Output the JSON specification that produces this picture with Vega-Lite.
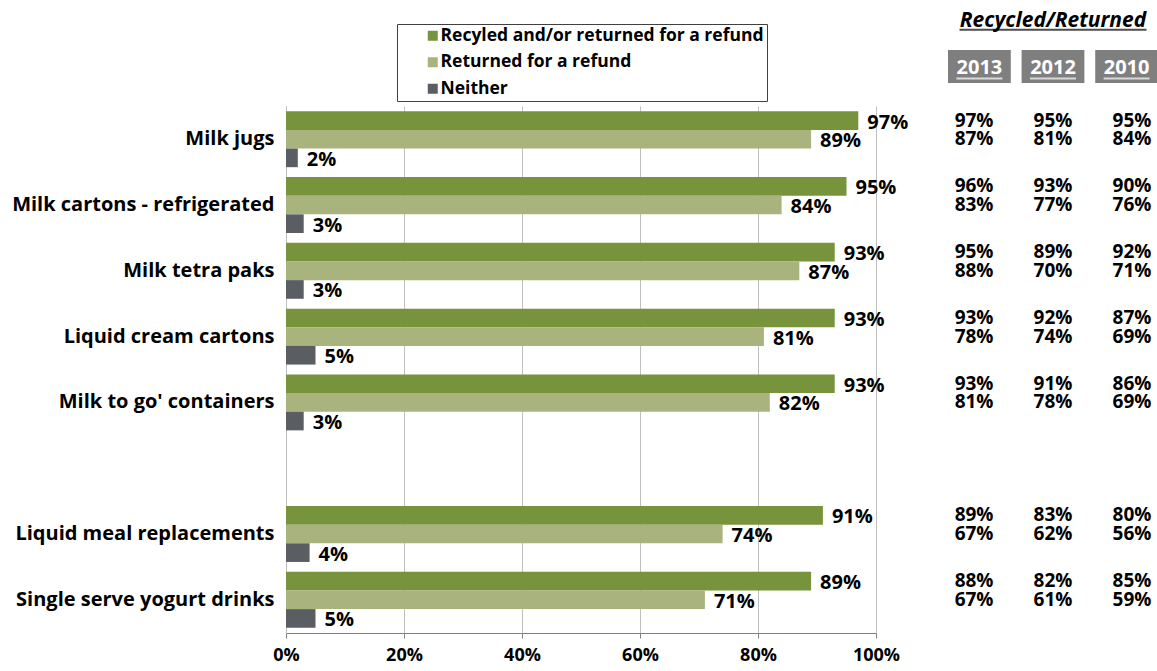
{
  "$schema": "https://vega.github.io/schema/vega-lite/v6.json",
  "config": {"font": "Open Sans", "view": {"stroke": null}},
  "padding": {"left": 11, "top": 9, "right": 0, "bottom": 0},
  "datasets": {
    "bars": [
      {"cat": "Milk jugs", "series": "Recyled and/or returned for a refund", "value": 0.97},
      {"cat": "Milk jugs", "series": "Returned for a refund", "value": 0.89},
      {"cat": "Milk jugs", "series": "Neither", "value": 0.02},
      {"cat": "Milk cartons - refrigerated", "series": "Recyled and/or returned for a refund", "value": 0.95},
      {"cat": "Milk cartons - refrigerated", "series": "Returned for a refund", "value": 0.84},
      {"cat": "Milk cartons - refrigerated", "series": "Neither", "value": 0.03},
      {"cat": "Milk tetra paks", "series": "Recyled and/or returned for a refund", "value": 0.93},
      {"cat": "Milk tetra paks", "series": "Returned for a refund", "value": 0.87},
      {"cat": "Milk tetra paks", "series": "Neither", "value": 0.03},
      {"cat": "Liquid cream cartons", "series": "Recyled and/or returned for a refund", "value": 0.93},
      {"cat": "Liquid cream cartons", "series": "Returned for a refund", "value": 0.81},
      {"cat": "Liquid cream cartons", "series": "Neither", "value": 0.05},
      {"cat": "Milk to go' containers", "series": "Recyled and/or returned for a refund", "value": 0.93},
      {"cat": "Milk to go' containers", "series": "Returned for a refund", "value": 0.82},
      {"cat": "Milk to go' containers", "series": "Neither", "value": 0.03},
      {"cat": "Liquid meal replacements", "series": "Recyled and/or returned for a refund", "value": 0.91},
      {"cat": "Liquid meal replacements", "series": "Returned for a refund", "value": 0.74},
      {"cat": "Liquid meal replacements", "series": "Neither", "value": 0.04},
      {"cat": "Single serve yogurt drinks", "series": "Recyled and/or returned for a refund", "value": 0.89},
      {"cat": "Single serve yogurt drinks", "series": "Returned for a refund", "value": 0.71},
      {"cat": "Single serve yogurt drinks", "series": "Neither", "value": 0.05}
    ],
    "table": [
      {"cat": "Milk jugs", "year": "2013", "series": "Recyled and/or returned for a refund", "value": 0.97},
      {"cat": "Milk jugs", "year": "2013", "series": "Returned for a refund", "value": 0.87},
      {"cat": "Milk jugs", "year": "2012", "series": "Recyled and/or returned for a refund", "value": 0.95},
      {"cat": "Milk jugs", "year": "2012", "series": "Returned for a refund", "value": 0.81},
      {"cat": "Milk jugs", "year": "2010", "series": "Recyled and/or returned for a refund", "value": 0.95},
      {"cat": "Milk jugs", "year": "2010", "series": "Returned for a refund", "value": 0.84},
      {"cat": "Milk cartons - refrigerated", "year": "2013", "series": "Recyled and/or returned for a refund", "value": 0.96},
      {"cat": "Milk cartons - refrigerated", "year": "2013", "series": "Returned for a refund", "value": 0.83},
      {"cat": "Milk cartons - refrigerated", "year": "2012", "series": "Recyled and/or returned for a refund", "value": 0.93},
      {"cat": "Milk cartons - refrigerated", "year": "2012", "series": "Returned for a refund", "value": 0.77},
      {"cat": "Milk cartons - refrigerated", "year": "2010", "series": "Recyled and/or returned for a refund", "value": 0.90},
      {"cat": "Milk cartons - refrigerated", "year": "2010", "series": "Returned for a refund", "value": 0.76},
      {"cat": "Milk tetra paks", "year": "2013", "series": "Recyled and/or returned for a refund", "value": 0.95},
      {"cat": "Milk tetra paks", "year": "2013", "series": "Returned for a refund", "value": 0.88},
      {"cat": "Milk tetra paks", "year": "2012", "series": "Recyled and/or returned for a refund", "value": 0.89},
      {"cat": "Milk tetra paks", "year": "2012", "series": "Returned for a refund", "value": 0.70},
      {"cat": "Milk tetra paks", "year": "2010", "series": "Recyled and/or returned for a refund", "value": 0.92},
      {"cat": "Milk tetra paks", "year": "2010", "series": "Returned for a refund", "value": 0.71},
      {"cat": "Liquid cream cartons", "year": "2013", "series": "Recyled and/or returned for a refund", "value": 0.93},
      {"cat": "Liquid cream cartons", "year": "2013", "series": "Returned for a refund", "value": 0.78},
      {"cat": "Liquid cream cartons", "year": "2012", "series": "Recyled and/or returned for a refund", "value": 0.92},
      {"cat": "Liquid cream cartons", "year": "2012", "series": "Returned for a refund", "value": 0.74},
      {"cat": "Liquid cream cartons", "year": "2010", "series": "Recyled and/or returned for a refund", "value": 0.87},
      {"cat": "Liquid cream cartons", "year": "2010", "series": "Returned for a refund", "value": 0.69},
      {"cat": "Milk to go' containers", "year": "2013", "series": "Recyled and/or returned for a refund", "value": 0.93},
      {"cat": "Milk to go' containers", "year": "2013", "series": "Returned for a refund", "value": 0.81},
      {"cat": "Milk to go' containers", "year": "2012", "series": "Recyled and/or returned for a refund", "value": 0.91},
      {"cat": "Milk to go' containers", "year": "2012", "series": "Returned for a refund", "value": 0.78},
      {"cat": "Milk to go' containers", "year": "2010", "series": "Recyled and/or returned for a refund", "value": 0.86},
      {"cat": "Milk to go' containers", "year": "2010", "series": "Returned for a refund", "value": 0.69},
      {"cat": "Liquid meal replacements", "year": "2013", "series": "Recyled and/or returned for a refund", "value": 0.89},
      {"cat": "Liquid meal replacements", "year": "2013", "series": "Returned for a refund", "value": 0.67},
      {"cat": "Liquid meal replacements", "year": "2012", "series": "Recyled and/or returned for a refund", "value": 0.83},
      {"cat": "Liquid meal replacements", "year": "2012", "series": "Returned for a refund", "value": 0.62},
      {"cat": "Liquid meal replacements", "year": "2010", "series": "Recyled and/or returned for a refund", "value": 0.80},
      {"cat": "Liquid meal replacements", "year": "2010", "series": "Returned for a refund", "value": 0.56},
      {"cat": "Single serve yogurt drinks", "year": "2013", "series": "Recyled and/or returned for a refund", "value": 0.88},
      {"cat": "Single serve yogurt drinks", "year": "2013", "series": "Returned for a refund", "value": 0.67},
      {"cat": "Single serve yogurt drinks", "year": "2012", "series": "Recyled and/or returned for a refund", "value": 0.82},
      {"cat": "Single serve yogurt drinks", "year": "2012", "series": "Returned for a refund", "value": 0.61},
      {"cat": "Single serve yogurt drinks", "year": "2010", "series": "Recyled and/or returned for a refund", "value": 0.85},
      {"cat": "Single serve yogurt drinks", "year": "2010", "series": "Returned for a refund", "value": 0.59}
    ],
    "years": [{"year": "2013"}, {"year": "2012"}, {"year": "2010"}],
    "header": [{"label": "Recycled/Returned"}]
  },
  "columns": 2,
  "bounds": "flush",
  "spacing": {"row": 23, "column": 72},
  "concat": [
    {
      "width": 590,
      "height": 33,
      "data": {"values": [{}]},
      "mark": {"type": "text"},
      "encoding": {"text": {"value": ""}}
    },
    {
      "width": 210,
      "height": 33,
      "data": {"name": "years"},
      "encoding": {
        "x": {"field": "year", "type": "nominal", "sort": null, "axis": null,
              "scale": {"domain": ["2013", "2012", "2010"], "paddingInner": 0.147, "paddingOuter": 0}}
      },
      "layer": [
        {"mark": {"type": "bar", "color": "#7F7F7F"}},
        {"mark": {"type": "text", "color": "white", "fontSize": 20, "fontWeight": "bold", "baseline": "middle", "dy": 1},
         "encoding": {"text": {"field": "year"}}},
        {"mark": {"type": "tick", "orient": "horizontal", "color": "white", "size": 46, "thickness": 2},
         "encoding": {"y": {"datum": 0.14, "type": "quantitative", "axis": null, "scale": {"domain": [0, 1], "nice": false}}}},
        {"data": {"name": "header"},
         "mark": {"type": "text", "color": "black", "fontSize": 21, "fontWeight": "bold", "fontStyle": "italic", "baseline": "alphabetic"},
         "encoding": {"x": {"datum": "2012"}, "y": {"datum": 1.712, "type": "quantitative"}, "text": {"field": "label"}}},
        {"data": {"name": "header"},
         "mark": {"type": "tick", "orient": "horizontal", "color": "black", "size": 187, "thickness": 2},
         "encoding": {"x": {"datum": "2012"}, "y": {"datum": 1.615, "type": "quantitative"}}}
      ]
    },
    {
      "width": 590,
      "height": 527,
      "data": {"name": "bars"},
      "encoding": {
        "y": {"field": "cat", "type": "nominal",
              "scale": {"domain": ["Milk jugs", "Milk cartons - refrigerated", "Milk tetra paks", "Liquid cream cartons", "Milk to go' containers", " ", "Liquid meal replacements", "Single serve yogurt drinks"], "paddingInner": 0.15, "paddingOuter": 0.08},
              "axis": {"title": null, "ticks": false, "labelFontSize": 20, "labelFontWeight": "bold", "labelColor": "black", "labelPadding": 12, "labelLimit": 400, "domainColor": "#BFBFBF"}},
        "yOffset": {"field": "series", "type": "nominal",
                    "scale": {"domain": ["Recyled and/or returned for a refund", "Returned for a refund", "Neither"], "paddingInner": 0, "paddingOuter": 0}},
        "x": {"field": "value", "type": "quantitative",
              "scale": {"domain": [0, 1]},
              "axis": {"title": null, "values": [0, 0.2, 0.4, 0.6, 0.8, 1], "format": ".0%", "grid": true, "gridColor": "#BFBFBF", "domainColor": "#808080", "tickColor": "#808080", "tickSize": 5, "labelFontSize": 18, "labelFontWeight": "bold", "labelColor": "black", "labelPadding": 8, "labelFlush": false}}
      },
      "layer": [
        {"mark": {"type": "bar"},
         "encoding": {
           "color": {"field": "series", "type": "nominal",
                     "scale": {"domain": ["Recyled and/or returned for a refund", "Returned for a refund", "Neither"], "range": ["#77933C", "#A9B37E", "#5A5E63"]},
                     "legend": {"title": null, "orient": "none", "legendX": 111, "legendY": -26, "strokeColor": "#404040", "fillColor": "white", "padding": 3, "symbolType": "square", "symbolSize": 100, "symbolStrokeWidth": 0, "symbolOffset": 24, "labelOffset": -1, "labelFontSize": 17.5, "labelFontWeight": "bold", "labelColor": "black", "labelLimit": 500, "rowPadding": 7.5}}
         }},
        {"mark": {"type": "text", "align": "left", "baseline": "middle", "dx": 9, "dy": 2, "fontSize": 20, "fontWeight": "bold", "color": "black"},
         "encoding": {"text": {"field": "value", "type": "quantitative", "format": ".0%"}}}
      ]
    },
    {
      "width": 210,
      "height": 527,
      "data": {"name": "table"},
      "mark": {"type": "text", "fontSize": 19, "fontWeight": "bold", "color": "black", "baseline": "middle"},
      "encoding": {
        "x": {"field": "year", "type": "nominal", "sort": null, "axis": null,
              "scale": {"type": "point", "domain": ["2013", "2012", "2010"], "padding": 0.33}},
        "y": {"field": "cat", "type": "nominal", "axis": null,
              "scale": {"domain": ["Milk jugs", "Milk cartons - refrigerated", "Milk tetra paks", "Liquid cream cartons", "Milk to go' containers", " ", "Liquid meal replacements", "Single serve yogurt drinks"], "paddingInner": 0.15, "paddingOuter": 0.08}},
        "yOffset": {"field": "series", "type": "nominal",
                    "scale": {"domain": ["Recyled and/or returned for a refund", "Returned for a refund"], "paddingInner": 0, "paddingOuter": 1, "align": 0.143}},
        "text": {"field": "value", "type": "quantitative", "format": ".0%"}
      }
    }
  ]
}
